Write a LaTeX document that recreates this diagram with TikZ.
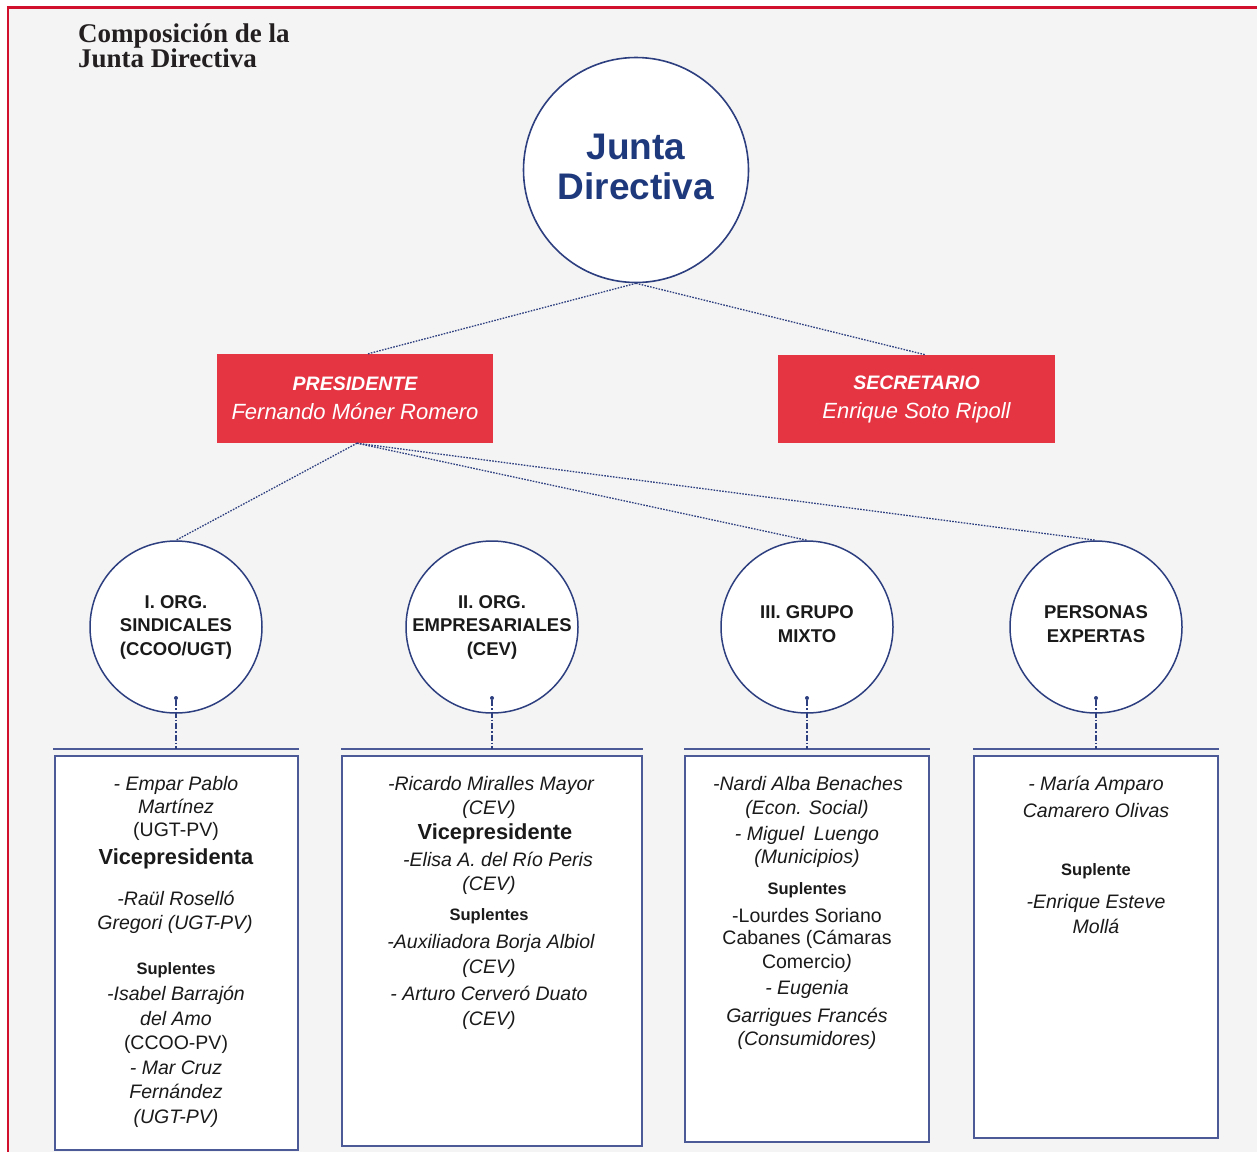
\documentclass[tikz,border=0pt]{standalone}
\usepackage{fontspec}
\setmainfont{Liberation Sans}
\newfontfamily\titlefont{Liberation Serif}
\usetikzlibrary{calc}
\definecolor{bgc}{HTML}{F4F4F4}
\definecolor{framered}{HTML}{D0102C}
\definecolor{boxred}{HTML}{E53543}
\definecolor{navy}{HTML}{2E3F80}
\definecolor{boxedge}{HTML}{4C5B98}
\definecolor{jtext}{HTML}{1F3A7C}
\definecolor{ink}{HTML}{1A1A1A}
\definecolor{titleink}{HTML}{231F20}
\newcommand\txtline[5]{\node[#4] (#1) at (#2,#3) {#5};}
\begin{document}
\begin{tikzpicture}[x=1pt,y=-1pt,
  rolebox/.style={fill=boxred, draw=none, inner sep=0pt, text=white, align=center,
    font=\fontsize{22}{29}\selectfont\itshape},
  orgcircle/.style={circle, draw=navy, line width=1.5pt, fill=white, minimum size=172pt,
    inner sep=0pt, align=center, font=\fontsize{18.5}{23.5}\selectfont\bfseries, text=ink},
  bigcircle/.style={circle, draw=navy, line width=1.6pt, fill=white, minimum size=225pt,
    inner sep=0pt, align=center, font=\fontsize{37}{40}\selectfont\bfseries, text=jtext},
  link/.style={navy, line width=1.3pt, dash pattern=on 1.6pt off 1.3pt},
  drop/.style={navy, line width=1.3pt, dash pattern=on 6pt off 2pt on 1.5pt off 2pt},
  shelf/.style={boxedge, line width=2pt},
  panel/.style={draw=boxedge, fill=white, line width=1.6pt, inner sep=0pt},
  dropdot/.style={circle, fill=navy, inner sep=0pt, minimum size=4pt},
  nm/.style={anchor=base, text=ink, font=\fontsize{19.5}{23}\selectfont\itshape},
  up/.style={anchor=base, text=ink, font=\fontsize{19.5}{23}\selectfont},
  vp/.style={anchor=base, text=ink, font=\fontsize{21.8}{26}\selectfont\bfseries},
  sup/.style={anchor=base, text=ink, font=\fontsize{16.5}{20}\selectfont\bfseries},
  ttl/.style={anchor=base west, inner sep=0pt, text=titleink, font=\fontsize{27}{27}\selectfont\titlefont\bfseries}
]
\useasboundingbox (0,0) rectangle (1257,1152);
\fill[white] (0,0) rectangle (1257,1152);
\fill[bgc] (8,7.5) rectangle (1257,1152);
\draw[framered, line width=3pt] (6.75,7.5) -- (1257,7.5);
\draw[framered, line width=2.5pt] (8,7.5) -- (8,1152);

% title
\node[ttl] (t1) at (78,42) {Composición de la};
\node[ttl] (t2) at (78,67) {Junta Directiva};

% top circle
\node[bigcircle, text depth=6pt] (junta) at (636,170) {Junta\\Directiva};

% role boxes
\node[rolebox, minimum width=276pt, minimum height=89pt] (pres) at (355,398.5)
  {{\bfseries\fontsize{19.5}{29}\selectfont PRESIDENTE}\\Fernando Móner Romero};
\node[rolebox, minimum width=277pt, minimum height=88pt] (sec) at (916.5,399)
  {{\bfseries\fontsize{19.5}{29}\selectfont SECRETARIO}\\Enrique Soto Ripoll};

% group circles
\node[orgcircle] (c1) at (176,627) {I. ORG.\\SINDICALES\\(CCOO/UGT)};
\node[orgcircle] (c2) at (492,627) {II. ORG.\\EMPRESARIALES\\(CEV)};
\node[orgcircle, text depth=6pt, font=\fontsize{18.5}{24.5}\selectfont\bfseries] (c3) at (807,627) {III. GRUPO\\MIXTO};
\node[orgcircle, text depth=6pt, font=\fontsize{18.5}{24.5}\selectfont\bfseries] (c4) at (1096,627) {PERSONAS\\EXPERTAS};

% connectors
\draw[link] (junta.south) -- ([xshift=13pt]pres.north);
\draw[link] (junta.south) -- ([xshift=9pt]sec.north);
\draw[link] ([xshift=2pt]pres.south) -- (c1.north);
\draw[link] ([xshift=2pt]pres.south) -- (c3.north);
\draw[link] ([xshift=2pt]pres.south) -- (c4.north);

% panels
\node[panel, minimum width=243pt, minimum height=394pt] (p1) at (176.5,953) {};
\node[panel, minimum width=300pt, minimum height=390pt] (p2) at (492,951) {};
\node[panel, minimum width=244pt, minimum height=386pt] (p3) at (807,949) {};
\node[panel, minimum width=244pt, minimum height=382pt] (p4) at (1096,947) {};

% shelves and drops
\coordinate (s1) at (176,749);
\coordinate (s2) at (492,749);
\coordinate (s3) at (807,749);
\coordinate (s4) at (1096,749);
\draw[shelf] (53,749) -- (s1) -- (299,749);
\draw[shelf] (341,749) -- (s2) -- (643,749);
\draw[shelf] (684,749) -- (s3) -- (930,749);
\draw[shelf] (973,749) -- (s4) -- (1219,749);
\node[dropdot] (d1) at (176,698) {};
\node[dropdot] (d2) at (492,698) {};
\node[dropdot] (d3) at (807,698) {};
\node[dropdot] (d4) at (1096,698) {};
\draw[drop] (d1) -- (s1);
\draw[drop] (d2) -- (s2);
\draw[drop] (d3) -- (s3);
\draw[drop] (d4) -- (s4);

% panel 1
\txtline{p1a}{176}{790}{nm}{- Empar Pablo}
\txtline{p1b}{176}{813}{nm}{Martínez}
\txtline{p1c}{176}{836}{up}{(UGT-PV)}
\txtline{p1d}{176}{864}{vp}{Vicepresidenta}
\txtline{p1e}{176}{905}{nm}{-Raül Roselló}
\txtline{p1f}{175}{929}{nm}{Gregori (UGT-PV)}
\txtline{p1g}{176}{974}{sup}{Suplentes}
\txtline{p1h}{176}{1000}{nm}{-Isabel Barrajón}
\txtline{p1i}{176}{1025}{nm}{del Amo}
\txtline{p1j}{176}{1049}{up}{(CCOO-PV)}
\txtline{p1k}{176}{1074}{nm}{- Mar Cruz}
\txtline{p1l}{176}{1098}{nm}{Fernández}
\txtline{p1m}{176}{1123}{nm}{(UGT-PV)}

% panel 2
\txtline{p2a}{491}{790}{nm}{-Ricardo Miralles Mayor}
\txtline{p2b}{489}{814}{nm}{(CEV)}
\txtline{p2c}{495}{839}{vp}{Vicepresidente}
\txtline{p2d}{498}{866}{nm}{-Elisa A. del Río Peris}
\txtline{p2e}{489}{890}{nm}{(CEV)}
\txtline{p2f}{489}{920}{sup}{Suplentes}
\txtline{p2g}{491}{948}{nm}{-Auxiliadora Borja Albiol}
\txtline{p2h}{489}{973}{nm}{(CEV)}
\txtline{p2i}{489}{1000}{nm}{- Arturo Cerveró Duato}
\txtline{p2j}{489}{1025}{nm}{(CEV)}

% panel 3
\txtline{p3a}{808}{790}{nm}{-Nardi Alba Benaches}
\txtline{p3b}{807}{814}{nm}{(Econ. Social)}
\txtline{p3c}{807}{840}{nm}{- Miguel\hspace{0.5em}Luengo}
\txtline{p3d}{807}{863}{nm}{(Municipios)}
\txtline{p3e}{807}{894}{sup}{Suplentes}
\txtline{p3f}{807}{922}{up}{-Lourdes Soriano}
\txtline{p3g}{807}{944}{up}{Cabanes (Cámaras}
\txtline{p3h}{807}{968}{up}{Comercio\textit{)}}
\txtline{p3i}{807}{994}{nm}{- Eugenia}
\txtline{p3j}{807}{1022}{nm}{Garrigues Francés}
\txtline{p3k}{807}{1045}{nm}{(Consumidores)}

% panel 4
\txtline{p4a}{1096}{790}{nm}{- María Amparo}
\txtline{p4b}{1096}{817}{nm}{Camarero Olivas}
\txtline{p4c}{1096}{875}{sup}{Suplente}
\txtline{p4d}{1096}{908}{nm}{-Enrique Esteve}
\txtline{p4e}{1096}{933}{nm}{Mollá}
\end{tikzpicture}
\end{document}
